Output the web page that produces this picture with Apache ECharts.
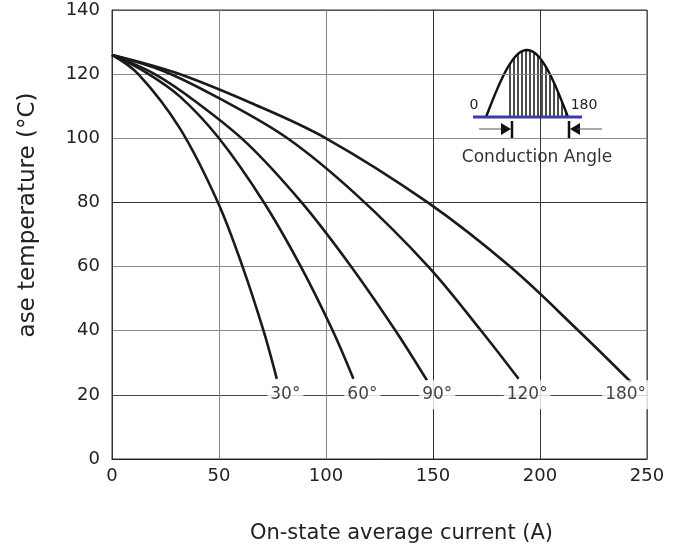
<!DOCTYPE html>
<html>
<head>
<meta charset="utf-8">
<script src="https://cdn.jsdelivr.net/npm/echarts@6/dist/echarts.min.js"></script>
<style>
  html, body { margin: 0; padding: 0; background: #fff; }
  #chart { width: 682px; height: 549px; }
</style>
</head>
<body>
<div id="chart"></div>
<script>
// case temperature (°C) vs on-state average current (A), one curve per conduction angle
const curve30  = [[0, 126], [12.3, 120], [31.8, 103], [49.5, 80], [61, 60], [70.8, 40], [77, 25]];
const curve60  = [[0, 126], [16, 120.5], [31.8, 113], [50, 100], [70.7, 80.3], [88, 60.3], [103, 40.2], [112.8, 25]];
const curve90  = [[0, 126], [20, 120], [40, 111], [63, 98.5], [88.6, 80], [111.2, 60.5], [132.5, 40], [147.2, 24.5]];
const curve120 = [[0, 126], [24, 121], [50, 112.5], [82, 100], [114, 82.5], [147.8, 60], [172.5, 40], [190, 25]];
const curve180 = [[0, 126], [29.5, 120.5], [65, 111], [100, 100], [147.5, 80], [186, 60], [218, 40], [242.5, 24]];

const angleNames = ['30°', '60°', '90°', '120°', '180°'];
const angleLabelX = [81, 117, 152, 194, 240];
const angleLabelY = 20;

const font = 'DejaVu Sans';
const chart = echarts.init(document.getElementById('chart'));

// little "conduction angle" sketch in the top right corner
function insetGraphic() {
  const base = 117, x0 = 486, w = 82, h = 67;
  const hump = [];
  for (let i = 0; i <= 40; i++) {
    hump.push([x0 + w * i / 40, base - h * Math.sin(Math.PI * i / 40)]);
  }
  const hatches = [];
  for (let x = 510; x <= 566; x += 4) {
    const y = base - h * Math.sin(Math.PI * (x - x0) / w);
    hatches.push({ type: 'line', shape: { x1: x, y1: base, x2: x, y2: y }, style: { stroke: '#111', lineWidth: 1.5 } });
  }
  return [
    { type: 'rect', shape: { x: 468, y: 47, width: 136, height: 130 }, style: { fill: '#fff' } },
    ...hatches,
    { type: 'polyline', shape: { points: hump }, style: { stroke: '#111', lineWidth: 2.4, fill: null } },
    { type: 'line', shape: { x1: 473, y1: base, x2: 582, y2: base }, style: { stroke: '#3d3aa8', lineWidth: 3 } },
    { type: 'text', x: 474, y: 105, style: { text: '0', font: '14px "DejaVu Sans"', fill: '#222', align: 'center', verticalAlign: 'middle' } },
    { type: 'text', x: 584, y: 105, style: { text: '180', font: '14px "DejaVu Sans"', fill: '#222', align: 'center', verticalAlign: 'middle' } },
    // left arrow
    { type: 'line', shape: { x1: 479, y1: 129, x2: 504, y2: 129 }, style: { stroke: '#555', lineWidth: 1 } },
    { type: 'polygon', shape: { points: [[501, 123], [501, 135], [511, 129]] }, style: { fill: '#111' } },
    { type: 'line', shape: { x1: 512, y1: 121, x2: 512, y2: 138 }, style: { stroke: '#111', lineWidth: 2.5 } },
    // right arrow
    { type: 'line', shape: { x1: 569, y1: 121, x2: 569, y2: 138 }, style: { stroke: '#111', lineWidth: 2.5 } },
    { type: 'polygon', shape: { points: [[580, 123], [580, 135], [570, 129]] }, style: { fill: '#111' } },
    { type: 'line', shape: { x1: 577, y1: 129, x2: 602, y2: 129 }, style: { stroke: '#555', lineWidth: 1 } },
    { type: 'text', x: 537, y: 158, style: { text: 'Conduction Angle', font: '17px "DejaVu Sans"', fill: '#333', align: 'center', verticalAlign: 'middle' } }
  ];
}

function curveSeries(name, data) {
  return {
    name: name,
    type: 'line',
    data: data,
    smooth: 0.35,
    showSymbol: false,
    lineStyle: { color: '#1a1a1a', width: 2.6 },
    z: 2
  };
}

const option = {
  animation: false,
  backgroundColor: '#fff',
  grid: { left: 112, right: 35, top: 10, bottom: 89, show: true, borderColor: '#333', borderWidth: 1 },
  xAxis: {
    type: 'value',
    min: 0, max: 250, interval: 50,
    axisLine: { lineStyle: { color: '#222', width: 1.2 } },
    axisTick: { show: false },
    axisLabel: { fontSize: 18, color: '#222', margin: 8, fontFamily: font },
    splitLine: { lineStyle: { color: ['#555', '#888', '#888', '#333', '#333', '#555'], width: 1 } },
    name: 'On-state average current (A)',
    nameLocation: 'middle',
    nameGap: 64,
    nameTextStyle: { fontSize: 21, color: '#222', fontFamily: font, padding: [0, 0, 0, 44] }
  },
  yAxis: {
    type: 'value',
    min: 0, max: 140, interval: 20,
    axisLine: { show: true, lineStyle: { color: '#333', width: 1 } },
    axisTick: { show: false },
    axisLabel: { fontSize: 18, color: '#222', margin: 12, fontFamily: font },
    splitLine: { lineStyle: { color: ['#555', '#444', '#888', '#888', '#333', '#888', '#888', '#555'], width: 1 } }
  },
  graphic: [
    {
      type: 'text', x: 28, y: 215, rotation: Math.PI / 2,
      style: { text: 'ase temperature (°C)', font: '23px "DejaVu Sans"', fill: '#222', align: 'center', verticalAlign: 'middle' }
    },
    { type: 'group', children: insetGraphic() }
  ],
  series: [
    curveSeries('30°', curve30),
    curveSeries('60°', curve60),
    curveSeries('90°', curve90),
    curveSeries('120°', curve120),
    curveSeries('180°', curve180),
    {
      type: 'scatter',
      symbolSize: 0,
      z: 5,
      data: angleLabelX.map((x, i) => ({ value: [x, angleLabelY], name: angleNames[i] })),
      label: {
        show: true,
        position: 'inside',
        formatter: p => p.name,
        fontSize: 17,
        fontFamily: font,
        color: '#111',
        backgroundColor: '#fff',
        padding: [6, 3, 6, 3]
      },
      emphasis: { disabled: true }
    }
  ]
};

chart.setOption(option);
window.addEventListener('resize', () => chart.resize());
</script>
</body>
</html>
